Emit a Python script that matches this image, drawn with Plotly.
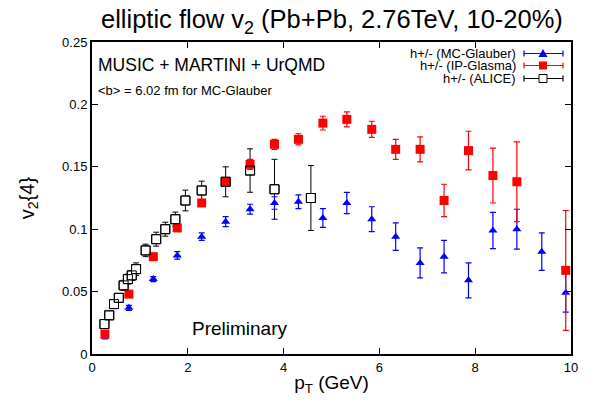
import plotly.graph_objects as go

# ---- data ----
pt_model = [0.27, 0.77, 1.28, 1.78, 2.29, 2.79, 3.30, 3.81, 4.31, 4.82,
            5.32, 5.84, 6.34, 6.85, 7.35, 7.86, 8.37, 8.87, 9.39, 9.89]
v2_glauber = [0.014, 0.037, 0.060, 0.079, 0.094, 0.106, 0.116, 0.121, 0.122, 0.109,
              0.121, 0.108, 0.094, 0.073, 0.078, 0.059, 0.099, 0.100, 0.082, 0.049]
err_glauber = [0.002, 0.002, 0.002, 0.003, 0.003, 0.004, 0.004, 0.005, 0.0055, 0.0075,
               0.0085, 0.010, 0.011, 0.012, 0.013, 0.014, 0.0145, 0.016, 0.015, 0.0155]

pt_ipg = [0.27, 0.77, 1.28, 1.78, 2.29, 2.79, 3.30, 3.81, 4.31, 4.82,
          5.32, 5.84, 6.34, 6.85, 7.35, 7.86, 8.37, 8.87, 9.89]
v2_ipg = [0.016, 0.048, 0.078, 0.101, 0.121, 0.138, 0.152, 0.168, 0.172, 0.185,
          0.188, 0.180, 0.164, 0.164, 0.123, 0.163, 0.143, 0.138, 0.067]
err_ipg = [0.001, 0.001, 0.002, 0.002, 0.002, 0.003, 0.004, 0.004, 0.0045, 0.0055,
           0.006, 0.0065, 0.008, 0.010, 0.013, 0.0155, 0.022, 0.032, 0.048]

pt_alice = [0.26, 0.36, 0.46, 0.56, 0.66, 0.75, 0.83, 0.92, 1.12, 1.34,
            1.53, 1.74, 1.95, 2.29, 2.79, 3.30, 3.81, 4.57]
v2_alice = [0.024, 0.031, 0.040, 0.045, 0.055, 0.060, 0.063, 0.068, 0.083, 0.092,
            0.100, 0.108, 0.123, 0.131, 0.138, 0.147, 0.132, 0.125]
err_alice = [0.003, 0.003, 0.003, 0.003, 0.004, 0.004, 0.004, 0.005, 0.005, 0.0056,
             0.0056, 0.0057, 0.0083, 0.0075, 0.012, 0.0174, 0.024, 0.026]

legend_names = ["h+/- (MC-Glauber)", "h+/- (IP-Glasma)", "h+/- (ALICE)"]
x_ticks = [0, 2, 4, 6, 8, 10]
y_ticks = [0, 0.05, 0.1, 0.15, 0.2, 0.25]
y_tick_text = ["0", "0.05", "0.1", "0.15", "0.2", "0.25"]

BLUE = "#0000ff"
RED = "#ff0000"
BLACK = "#000000"

fig = go.Figure()

# ALICE: white-filled squares carry the error bars (hides bar inside square)
fig.add_trace(go.Scatter(
    x=pt_alice, y=v2_alice, mode="markers",
    marker=dict(symbol="square", size=9, color="white", line=dict(color=BLACK, width=1)),
    error_y=dict(type="data", array=err_alice, color=BLACK, thickness=1, width=3),
    showlegend=False, hoverinfo="skip"))

fig.add_trace(go.Scatter(
    x=pt_model, y=v2_glauber, mode="markers",
    marker=dict(symbol="triangle-up", size=8, color=BLUE),
    error_y=dict(type="data", array=err_glauber, color=BLUE, thickness=1.2, width=3),
    showlegend=False))

fig.add_trace(go.Scatter(
    x=pt_ipg, y=v2_ipg, mode="markers",
    marker=dict(symbol="square", size=9, color=RED),
    error_y=dict(type="data", array=err_ipg, color=RED, thickness=1.2, width=3),
    showlegend=False))

# ALICE outlines on top
fig.add_trace(go.Scatter(
    x=pt_alice, y=v2_alice, mode="markers",
    marker=dict(symbol="square-open", size=9, color=BLACK, line=dict(color=BLACK, width=1)),
    showlegend=False, hoverinfo="skip"))

FONT = "Liberation Sans, Arial, sans-serif"

fig.update_layout(
    width=609, height=402,
    margin=dict(l=92, r=38, t=42, b=48),
    paper_bgcolor="white", plot_bgcolor="white",
    font=dict(family=FONT, color=BLACK, size=13),
    title=dict(text="elliptic flow v<sub>2</sub> (Pb+Pb, 2.76TeV, 10-20%)",
               x=0.545, xanchor="center", y=0.952, yanchor="middle",
               font=dict(size=25.5, family=FONT, color=BLACK)),
    showlegend=False,
)

fig.update_xaxes(
    range=[0, 10], tickvals=x_ticks, ticktext=[str(v) for v in x_ticks],
    showgrid=False, zeroline=False, showline=True, linecolor=BLACK, linewidth=2,
    mirror="ticks", ticks="inside", ticklen=6, tickwidth=1, tickcolor=BLACK,
    tickfont=dict(size=13, family=FONT),
    title=dict(text="p<sub>T</sub> (GeV)", font=dict(size=19, family=FONT), standoff=2),
)
fig.update_yaxes(
    range=[0, 0.25], tickvals=y_ticks, ticktext=y_tick_text,
    showgrid=False, zeroline=False, showline=True, linecolor=BLACK, linewidth=2,
    mirror="ticks", ticks="inside", ticklen=6, tickwidth=1, tickcolor=BLACK,
    tickfont=dict(size=13, family=FONT),
    title=dict(text="v<sub>2</sub>{4}", font=dict(size=20, family=FONT), standoff=22),
)

# text annotations
fig.add_annotation(x=0.008, y=0.925, xref="paper", yref="paper", xanchor="left", yanchor="middle",
                   text="MUSIC + MARTINI + UrQMD", showarrow=False, font=dict(size=17.5, family=FONT))
fig.add_annotation(x=0.008, y=0.843, xref="paper", yref="paper", xanchor="left", yanchor="middle",
                   text="&lt;b&gt; = 6.02 fm for MC-Glauber", showarrow=False, font=dict(size=13, family=FONT))
fig.add_annotation(x=0.205, y=0.083, xref="paper", yref="paper", xanchor="left", yanchor="middle",
                   text="Preliminary", showarrow=False, font=dict(size=19, family=FONT))

# manual legend (text right-aligned, key with horizontal error bar to the right)
plot_l, plot_r, plot_t, plot_b = 92, 571, 42, 354
def px_to_paper(px, py):
    return (px - plot_l) / (plot_r - plot_l), (plot_b - py) / (plot_b - plot_t)

legend_rows = [53.5, 65.5, 78.5]
legend_colors = [BLUE, RED, BLACK]
for name, row, col, k in zip(legend_names, legend_rows, legend_colors, range(3)):
    tx, ty = px_to_paper(518, row)
    fig.add_annotation(x=tx, y=ty, xref="paper", yref="paper", xanchor="right", yanchor="middle",
                       text=name, showarrow=False, font=dict(size=13, family=FONT))
    x0, y0 = px_to_paper(524, row)
    x1, _ = px_to_paper(563, row)
    fig.add_shape(type="line", xref="paper", yref="paper", x0=x0, x1=x1, y0=y0, y1=y0,
                  line=dict(color=col, width=1.2))
    for ex in (524, 563):
        cx, _ = px_to_paper(ex, row)
        _, ya = px_to_paper(ex, row - 3)
        _, yb = px_to_paper(ex, row + 3)
        fig.add_shape(type="line", xref="paper", yref="paper", x0=cx, x1=cx, y0=ya, y1=yb,
                      line=dict(color=col, width=1.2))
    mx0, my0 = px_to_paper(543 - 4, row + 4)
    mx1, my1 = px_to_paper(543 + 4, row - 4)
    if k == 0:
        ax, ay = px_to_paper(543 - 4.5, row + 3.5)
        bx, by = px_to_paper(543 + 4.5, row + 3.5)
        cx, cy = px_to_paper(543, row - 4.5)
        fig.add_shape(type="path", xref="paper", yref="paper",
                      path=f"M {ax} {ay} L {bx} {by} L {cx} {cy} Z",
                      fillcolor=BLUE, line=dict(color=BLUE, width=0))
    elif k == 1:
        fig.add_shape(type="rect", xref="paper", yref="paper", x0=mx0, x1=mx1, y0=my0, y1=my1,
                      fillcolor=RED, line=dict(color=RED, width=0))
    else:
        fig.add_shape(type="rect", xref="paper", yref="paper", x0=mx0, x1=mx1, y0=my0, y1=my1,
                      fillcolor="white", line=dict(color=BLACK, width=1))

fig.write_html("out.html", config={"displayModeBar": False},
               post_script="document.body.style.margin='0px';")
